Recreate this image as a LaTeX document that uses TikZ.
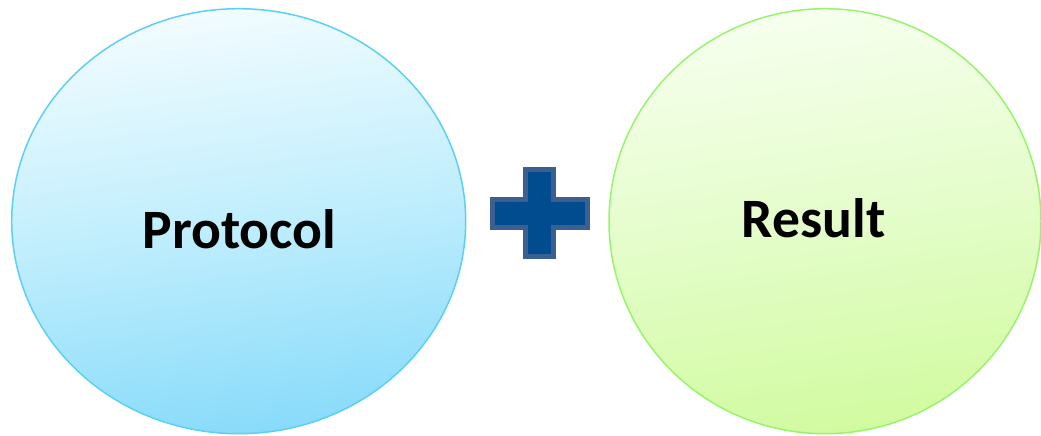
\documentclass[tikz,border=0pt]{standalone}
\usepackage{fontspec}
\setmainfont{Carlito}
\usetikzlibrary{shapes.geometric}
\definecolor{blueTop}{HTML}{F2FCFF}
\definecolor{blueMid}{HTML}{C0EEFD}
\definecolor{blueBot}{HTML}{88DBFA}
\definecolor{blueLine}{HTML}{5CCFF7}
\definecolor{greenTop}{HTML}{F6FFEE}
\definecolor{greenMid}{HTML}{E4FDCA}
\definecolor{greenBot}{HTML}{D1FBA0}
\definecolor{greenLine}{HTML}{98F46A}
\definecolor{plusFill}{HTML}{004C8F}
\definecolor{plusLine}{HTML}{3B5F90}
\tikzset{
  bubble/.style={ellipse, inner sep=0pt, line width=1.5pt},
  label/.style={anchor=base, inner sep=0pt, font=\fontsize{55.6}{60}\selectfont\bfseries},
}
\begin{document}
\begin{tikzpicture}[x=1pt,y=-1pt]
\useasboundingbox (0,0) rectangle (1041,436);
\node[bubble, draw=blueLine, top color=blueTop, bottom color=blueBot, middle color=blueMid, shading angle=8,
      minimum width=454, minimum height=425] (left) at (238.7,221.2) {};
\node[bubble, draw=greenLine, top color=greenTop, bottom color=greenBot, middle color=greenMid, shading angle=8,
      minimum width=432, minimum height=425] (right) at (825,221.2) {};
\node[label] (ptext) at (239.5,248) {Protocol};
\node[label] (rtext) at (813.5,237) {Result};
\draw[fill=plusFill, draw=plusLine, line width=5pt, line join=miter]
  (525.5,169.8) -- (553.5,169.8) -- (553.5,199.8) -- (587.5,199.8) -- (587.5,227.5)
  -- (553.5,227.5) -- (553.5,256.8) -- (525.5,256.8) -- (525.5,227.5) -- (492.5,227.5)
  -- (492.5,199.8) -- (525.5,199.8) -- cycle;
\end{tikzpicture}
\end{document}
